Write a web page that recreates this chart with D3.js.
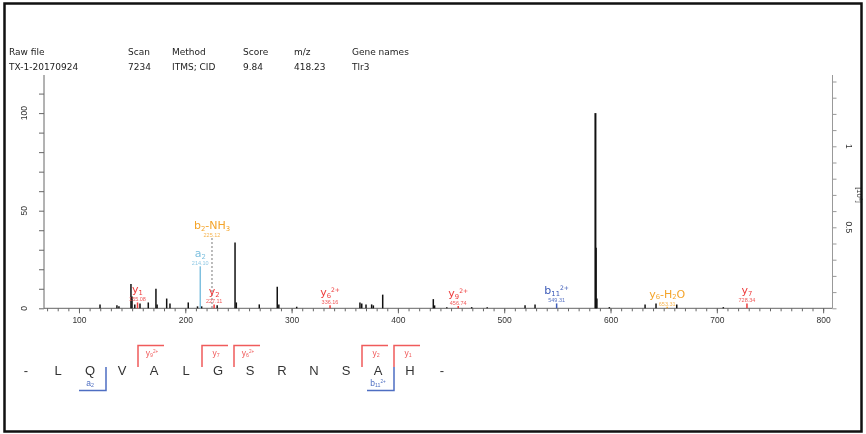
<!DOCTYPE html>
<html><head><meta charset="utf-8">
<script src="https://cdn.jsdelivr.net/npm/d3@7"></script>
<style>html,body{margin:0;padding:0;background:#fff;} svg{display:block;} #chart{will-change:transform;}</style>
</head><body>
<svg id="chart" width="866" height="434"></svg>
<script>
// ---- scan metadata ----
const headerKeys = ["Raw file", "Scan", "Method", "Score", "m/z", "Gene names"];
const headerValues = ["TX-1-20170924", "7234", "ITMS; CID", "9.84", "418.23", "Tlr3"];

// ---- unassigned peaks (m/z, relative intensity %) ----
const peakMz = [119.8, 135.7, 137.6, 148.9, 149.9, 152.5, 157.4, 165.2, 172.4, 173.5,
  182.5, 185.6, 202.8, 211.5, 215.4, 230.0, 246.8, 248.0, 269.6, 286.5,
  288.0, 304.8, 364.3, 366.0, 370.0, 375.3, 376.9, 385.7, 433.3, 434.5,
  446.0, 469.4, 484.0, 519.6, 529.0, 585.8, 586.4, 587.2, 598.9, 632.5,
  642.8, 662.3, 706.1];
const peakIntensity = [2, 1.5, 1, 12.5, 6, 2, 2.5, 3, 10, 2,
  5, 2.5, 3, 1, 1, 1.5, 33.7, 3, 2, 11,
  2, 0.8, 3, 2.5, 2, 2, 1.5, 7, 4.7, 1.5,
  0.6, 0.6, 0.6, 1.5, 2, 100, 31, 5, 0.6, 2,
  2.5, 2, 0.6];

// ---- assigned fragment ions ----
const ionLabels = ["y_1", "a_2", "b_2-NH_3", "y_2", "y_6^2+", "y_9^2+", "b_11^2+", "y_6-H_2O", "y_7"];
const ionMz = [155.08, 214.10, 225.12, 227.11, 336.16, 456.74, 549.31, 653.31, 728.34];
const ionIntensity = [3, 21.5, 36, 2, 1.5, 1.2, 2.5, 0.8, 2.5];
const ionType = ["y", "a", "loss", "y", "y", "y", "b", "loss", "y"];
const ionObserved = [true, true, false, true, true, true, true, true, true];

// ---- axis ticks ----
const mzMajorTicks = [100, 200, 300, 400, 500, 600, 700, 800];
const mzMinorTicks = d3.range(70, 801, 10);
const relTicks = d3.range(0, 111, 10);
const relLabels = [0, 50, 100];
const absTicks = d3.range(0, 1.41, 0.1).map(v => +v.toFixed(1));
const absLabels = [0.5, 1];

// ---- peptide sequence and fragment coverage ----
const residues = ["L", "Q", "V", "A", "L", "G", "S", "R", "N", "S", "A", "H"];
const yCoverage = [9, 7, 6, 2, 1];
const yCoverageLabels = ["y_9^2+", "y_7", "y_6^2+", "y_2", "y_1"];
const bCoverage = [2, 11];
const bCoverageLabels = ["a_2", "b_11^2+"];

const ionColor = { y: "#ee3b3b", a: "#7fc0df", b: "#3d5bb8", loss: "#f4a42a" };
const ionValueColor = { y: "#f05a5a", a: "#8fc8e4", b: "#5a74c4", loss: "#f6b450" };

const svg = d3.select("#chart");
const uiFont = "'DejaVu Sans', sans-serif";
const axisFont = "'Liberation Sans', Arial, sans-serif";

// text with _sub and ^sup markup
function richText(sel, str, size) {
  const re = /_(\d+)|\^([0-9+]+)|([^_^]+)/g;
  let m, shift = 0;
  while ((m = re.exec(str)) !== null) {
    let txt, fs, target;
    if (m[1] !== undefined) { txt = m[1]; fs = size * 0.62; target = size * 0.15; }
    else if (m[2] !== undefined) { txt = m[2]; fs = size * 0.55; target = -size * 0.36; }
    else { txt = m[3]; fs = size; target = 0; }
    sel.append("tspan").attr("font-size", fs).attr("dy", target - shift).text(txt);
    shift = target;
  }
  return sel;
}

// ---- header table ----
const headerX = [9, 128, 172, 243, 294, 352];
const hdr = svg.append("g").attr("font-family", uiFont).attr("font-size", 9).attr("fill", "#222");
headerKeys.forEach((k, i) => {
  hdr.append("text").attr("x", headerX[i]).attr("y", 55).text(k);
  hdr.append("text").attr("x", headerX[i]).attr("y", 70).text(headerValues[i]);
});

// ---- scales ----
const plotLeft = 44, plotRight = 832.5, plotTop = 75, plotBottom = 308.3;
const x = d3.scaleLinear().domain([67.1, 808.8]).range([plotLeft, plotRight]);
const y = d3.scaleLinear().domain([0, (plotBottom - plotTop) / 1.952]).range([plotBottom, plotTop]);
const yAbs = d3.scaleLinear().domain([0, (plotBottom - plotTop) / 162]).range([plotBottom, plotTop]);

// x tick labels are cut at the right-hand axis
svg.append("defs").append("clipPath").attr("id", "xclip")
  .append("rect").attr("x", 30).attr("y", -10).attr("width", plotRight - 31).attr("height", 40);

// ---- axes ----
const axisColor = "#666";
const gx = svg.append("g").attr("transform", `translate(0,${plotBottom})`).attr("clip-path", "url(#xclip)");
gx.append("g").call(d3.axisBottom(x).tickValues(mzMinorTicks).tickSize(3).tickFormat(""));
gx.append("g").call(d3.axisBottom(x).tickValues(mzMajorTicks).tickSize(5).tickPadding(4));
gx.selectAll(".domain").remove();
gx.selectAll("line").attr("stroke", axisColor);
gx.selectAll("text").attr("font-family", axisFont).attr("font-size", 8.5).attr("fill", "#333");
svg.append("line").attr("x1", plotLeft).attr("x2", plotRight).attr("y1", plotBottom).attr("y2", plotBottom)
  .attr("stroke", axisColor);

const gy = svg.append("g").attr("transform", `translate(${plotLeft},0)`);
gy.call(d3.axisLeft(y).tickValues(relTicks).tickSize(5).tickFormat(""));
gy.select(".domain").attr("stroke", axisColor).attr("d", `M0,${plotTop}V${plotBottom}`);
gy.selectAll("line").attr("stroke", axisColor);
svg.append("g").selectAll("text").data(relLabels).join("text")
  .attr("transform", d => `translate(27,${y(d)}) rotate(-90)`)
  .attr("text-anchor", "middle").attr("font-family", axisFont).attr("font-size", 8.5).attr("fill", "#333")
  .text(d => d);

const gr = svg.append("g").attr("transform", `translate(${plotRight},0)`);
gr.call(d3.axisRight(yAbs).tickValues(absTicks).tickSize(4).tickFormat(""));
gr.select(".domain").attr("stroke", "#999").attr("d", `M0,${plotTop}V${plotBottom}`);
gr.selectAll("line").attr("stroke", "#999");
svg.append("g").selectAll("text").data(absLabels).join("text")
  .attr("transform", d => `translate(846,${yAbs(d)}) rotate(90)`)
  .attr("text-anchor", "middle").attr("font-family", axisFont).attr("font-size", 8.5).attr("fill", "#333")
  .text(d => d);
svg.append("text").attr("transform", "translate(856.5,195) rotate(90)")
  .attr("text-anchor", "middle").attr("font-family", axisFont).attr("font-size", 7.5).attr("fill", "#333")
  .text("[10⁶]");

// ---- unassigned peaks ----
svg.append("g").selectAll("line").data(peakMz).join("line")
  .attr("x1", d => x(d)).attr("x2", d => x(d))
  .attr("y1", y(0)).attr("y2", (d, i) => y(peakIntensity[i]))
  .attr("stroke", "#111").attr("stroke-width", (d, i) => peakIntensity[i] >= 50 ? 2 : 1.5);

// ---- assigned ions ----
const ions = ionMz.map((mz, i) => ({ mz, label: ionLabels[i], inten: ionIntensity[i], type: ionType[i], observed: ionObserved[i] }));
const gi = svg.append("g");
ions.forEach(d => {
  const px = x(d.mz), top = y(d.inten);
  const anchor = Math.min(top - 1, 305.5);
  if (d.observed) {
    gi.append("line").attr("x1", px).attr("x2", px).attr("y1", y(0)).attr("y2", top)
      .attr("stroke", ionColor[d.type]).attr("stroke-width", 1.5);
  } else {
    gi.append("line").attr("x1", px).attr("x2", px).attr("y1", anchor + 1).attr("y2", y(0))
      .attr("stroke", "#777").attr("stroke-width", 1).attr("stroke-dasharray", "2,2");
  }
  gi.append("text").attr("x", px).attr("y", anchor).attr("text-anchor", "middle")
    .attr("font-family", axisFont).attr("font-size", 5.5).attr("fill", ionValueColor[d.type])
    .text(d.mz.toFixed(2));
  richText(gi.append("text").attr("x", px).attr("y", anchor - 8).attr("text-anchor", "middle")
    .attr("font-family", uiFont).attr("fill", ionColor[d.type]), d.label, 11);
});

// ---- sequence coverage ----
const seqItems = ["-"].concat(residues, ["-"]);
const sx = d3.scaleBand().domain(d3.range(seqItems.length)).range([10, 10 + 32 * seqItems.length]);
const cx = i => sx(i) + sx.bandwidth() / 2;
const gs = svg.append("g");
gs.selectAll("text").data(seqItems).join("text")
  .attr("x", (d, i) => cx(i)).attr("y", 374.5).attr("text-anchor", "middle")
  .attr("font-family", axisFont).attr("font-size", 13).attr("fill", "#333").text(d => d);

const n = residues.length;
const seqRed = "#f05b5b", seqBlue = "#4e6ec2";
yCoverage.forEach((k, j) => {
  const bx = (cx(n - k) + cx(n - k + 1)) / 2;
  gs.append("path").attr("d", `M${bx},367V345.5H${bx + 26}`)
    .attr("fill", "none").attr("stroke", seqRed).attr("stroke-width", 1.5);
  richText(gs.append("text").attr("x", bx + 14).attr("y", 356).attr("text-anchor", "middle")
    .attr("font-family", axisFont).attr("fill", seqRed), yCoverageLabels[j], 8.5);
});
bCoverage.forEach((k, j) => {
  const bx = (cx(k) + cx(k + 1)) / 2;
  gs.append("path").attr("d", `M${bx},367V390.5H${bx - 27}`)
    .attr("fill", "none").attr("stroke", seqBlue).attr("stroke-width", 1.5);
  richText(gs.append("text").attr("x", bx - 16).attr("y", 386).attr("text-anchor", "middle")
    .attr("font-family", axisFont).attr("fill", seqBlue), bCoverageLabels[j], 8.5);
});

// ---- frame ----
svg.append("rect").attr("x", 4.5).attr("y", 3.5).attr("width", 857).attr("height", 428)
  .attr("fill", "none").attr("stroke", "#111").attr("stroke-width", 2.5);
</script>
</body></html>
